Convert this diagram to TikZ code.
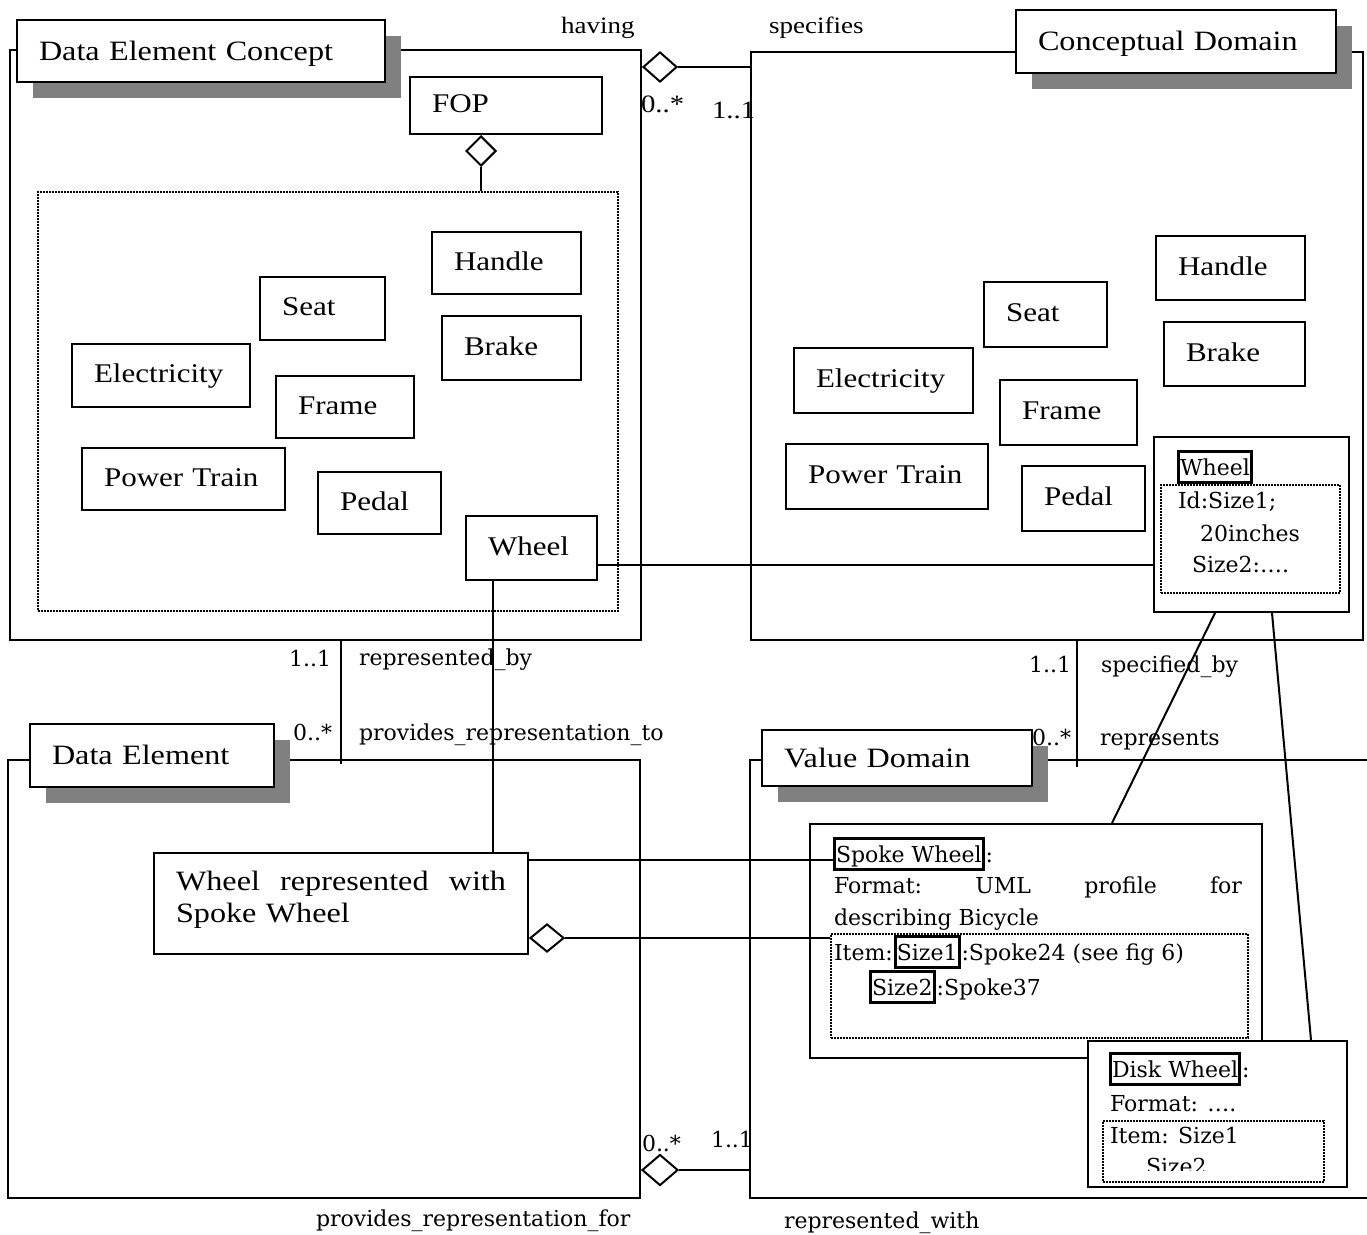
\documentclass[tikz,border=0pt]{standalone}
\usepackage{fontspec}
\setmainfont{Liberation Serif}
\newfontfamily\tmsfont[FakeStretch=1.15]{Liberation Serif}
\newfontfamily\cenfont{DejaVu Serif}
\usetikzlibrary{shapes.geometric,shadows,calc}

% node given by its two corners (x1,y1) and (x2,y2), y counted downwards
\newcommand\placebox[7]{%
  \pgfmathsetmacro\PBw{#5-#3}%
  \pgfmathsetmacro\PBh{#6-#4}%
  \pgfmathsetmacro\PBt{#5-#3-44}%
  \pgfmathsetmacro\PBx{(#3+#5)/2}%
  \pgfmathsetmacro\PBy{(#4+#6)/2}%
  \node[#1, minimum width=\PBw pt, minimum height=\PBh pt, text width=\PBt pt] (#2) at (\PBx,\PBy) {#7};}

\tikzset{
  frame/.style={draw, line width=2pt, inner xsep=22pt, inner ysep=0pt},
  hdr/.style={draw, fill=white, line width=2pt, inner xsep=22pt, inner ysep=0pt,
    align=left, text height=24pt, text depth=6pt,
    font=\tmsfont\fontsize{28}{34}\selectfont,
    drop shadow={shadow xshift=16pt, shadow yshift=-16pt, fill=black!50, opacity=1}},
  part/.style={draw, fill=white, line width=2pt, inner xsep=22pt, inner ysep=0pt,
    align=left, text height=20pt, text depth=6pt,
    font=\tmsfont\fontsize{27}{32}\selectfont},
  plain/.style={draw, fill=white, line width=2pt, inner xsep=22pt, inner ysep=0pt},
  dotbox/.style={draw, line width=2.6pt, dash pattern=on 2pt off 1pt, inner xsep=22pt, inner ysep=0pt},
  agg/.style={diamond, draw, fill=white, line width=2pt, inner sep=0pt,
    minimum width=34pt, minimum height=30pt},
  tlab/.style={inner sep=0pt, font=\tmsfont\fontsize{23.5}{28}\selectfont},
  tmult/.style={inner sep=0pt, font=\tmsfont\fontsize{25}{28}\selectfont},
  clab/.style={inner sep=0pt, font=\cenfont\fontsize{22}{32}\selectfont},
  hl/.style={draw, line width=3pt, inner xsep=1.5pt, inner ysep=2pt,
    text height=22pt, text depth=5pt, font=\cenfont\fontsize{22}{32}\selectfont},
  link/.style={line width=2pt}
}

\begin{document}
\begin{tikzpicture}[x=1pt, y=-1pt, line width=2pt]
\path[use as bounding box] (0,0) rectangle (1367,1234);
\clip (0,0) rectangle (1367,1234);

% package frames
\placebox{frame}{decF}{10}{50}{641}{640}{}
\placebox{frame}{cdF}{751}{52}{1363}{640}{}
\placebox{frame}{deF}{8}{760}{640}{1198}{}
\placebox{frame}{vdF}{750}{760}{1380}{1198}{}

% package headers
\placebox{hdr}{decH}{17}{20}{385}{82}{Data Element Concept}
\placebox{hdr}{cdH}{1016}{10}{1336}{73}{Conceptual Domain}
\placebox{hdr}{deH}{30}{724}{274}{787}{Data Element}
\placebox{hdr}{vdH}{762}{730}{1032}{786}{Value Domain}

% Data Element Concept contents
\placebox{part}{fop}{410}{77}{602}{134}{FOP}
\placebox{dotbox}{partsL}{38}{192}{618}{611}{}
\placebox{part}{hndL}{432}{232}{581}{294}{Handle}
\placebox{part}{seatL}{260}{277}{385}{340}{Seat}
\placebox{part}{brkL}{442}{316}{581}{380}{Brake}
\placebox{part}{elecL}{72}{344}{250}{407}{Electricity}
\placebox{part}{frmL}{276}{376}{414}{438}{Frame}
\placebox{part}{ptL}{82}{448}{285}{510}{Power Train}
\placebox{part}{pedL}{318}{472}{441}{534}{Pedal}
\placebox{part}{whlL}{466}{516}{597}{580}{Wheel}

% Conceptual Domain contents
\placebox{part}{hndR}{1156}{236}{1305}{300}{Handle}
\placebox{part}{seatR}{984}{282}{1107}{347}{Seat}
\placebox{part}{brkR}{1164}{322}{1305}{386}{Brake}
\placebox{part}{elecR}{794}{348}{973}{413}{Electricity}
\placebox{part}{frmR}{1000}{380}{1137}{445}{Frame}
\placebox{part}{ptR}{786}{444}{988}{509}{Power Train}
\placebox{part}{pedR}{1022}{466}{1145}{531}{Pedal}
\placebox{plain}{whlR}{1154}{437}{1349}{612}{}
\node[hl, anchor=base west] (hlWhl) at (1177,475) {Wheel};
\placebox{dotbox}{whlItems}{1161}{485}{1340}{593}{}
\node[clab, anchor=base west] (idS1) at (1177,508) {Id:Size1;};
\node[clab, anchor=base west] (inch) at (1199,541) {20inches};
\node[clab, anchor=base west] (idS2) at (1191,572) {Size2:….};

% Data Element contents
\placebox{part, text height=20pt, text depth=47pt, font=\tmsfont\fontsize{28}{32}\selectfont}{wrsw}{154}{853}{528}{954}{\makebox[330pt][l]{Wheel\hfill represented\hfill with}\\Spoke Wheel}

% Value Domain contents
\placebox{plain}{spokeB}{810}{824}{1262}{1058}{}
\node[hl, anchor=base west] (hlSpoke) at (833,862) {Spoke Wheel};
\node[clab, anchor=base west] (cSpoke) at (hlSpoke.base east) {:};
\node[clab, anchor=base west] (fmtS) at (833,893) {\makebox[408pt][l]{Format:\hfill UML\hfill profile\hfill for}};
\node[clab, anchor=base west] (descS) at (833,925) {describing Bicycle};
\placebox{dotbox}{spokeItems}{831}{934}{1248}{1038}{}
\node[clab, anchor=base west] (itemS) at (833,960) {Item:};
\node[hl, anchor=base west] (hlS1) at (itemS.base east) {Size1};
\node[clab, anchor=base west] (spk24) at (hlS1.base east) {:Spoke24 (see fig 6)};
\node[hl, anchor=base west] (hlS2) at (869,995) {Size2};
\node[clab, anchor=base west] (spk37) at (hlS2.base east) {:Spoke37};

\placebox{plain}{diskB}{1088}{1041}{1347}{1187}{}
\node[hl, anchor=base west] (hlDisk) at (1109,1077) {Disk Wheel};
\node[clab, anchor=base west] (cDisk) at (hlDisk.base east) {:};
\node[clab, anchor=base west] (fmtD) at (1109,1111) {Format: ….};
\placebox{dotbox}{diskItems}{1103}{1121}{1324}{1182}{}
\node[clab, anchor=base west] (itemD) at (1109,1143) {Item: Size1};
\begin{scope}
  \clip (1100,1150) rectangle (1330,1170);
  \node[clab, anchor=base west] (s2D) at (1145,1174) {Size2};
\end{scope}

% aggregation FOP -> parts
\node[agg, minimum width=30pt, minimum height=30pt, anchor=north] (dFop) at ($(fop.south west)+(72,0)$) {};
\draw[link] (dFop.south) -- (dFop.south |- partsL.north);

% having / specifies
\node[agg, anchor=west] (dHav) at (decF.east |- 0,67) {};
\draw[link] (dHav.east) -- (dHav.east -| cdF.west);
\node[tlab, anchor=base west] (lHav) at (560,33) {having};
\node[tlab, anchor=base west] (lSpec) at (768,33) {specifies};
\node[tmult, anchor=base west] (mHav) at (640,112) {0..*};
\node[tmult, anchor=base west] (mSpec) at (711,118) {1..1};

% Wheel to Wheel
\coordinate (wl) at ($(whlL.south east)+(0,-16)$);
\draw[link] (wl) -- (wl -| whlR.west);
\coordinate (wd) at ($(whlL.south west)+(28,0)$);
\draw[link] (wd) -- (wd |- wrsw.north);

% represented_by / provides_representation_to
\coordinate (rb) at ($(decF.south west)+(332,0)$);
\draw[link] (rb) -- ($(rb |- deF.north)+(0,5)$);
\node[clab, anchor=base east] (m1L) at (332,666) {1..1};
\node[clab, anchor=base west] (rby) at (358,665) {represented\_by};
\node[clab, anchor=base east] (m2L) at (333,740) {0..*};
\node[clab, anchor=base west] (prt) at (358,740) {provides\_representation\_to};

% specified_by / represents
\coordinate (sb) at ($(cdF.south west)+(327,0)$);
\draw[link] (sb) -- ($(sb |- vdF.north)+(0,8)$);
\node[clab, anchor=base east] (m1R) at (1072,672) {1..1};
\node[clab, anchor=base west] (sby) at (1100,672) {specified\_by};
\node[clab, anchor=base east] (m2R) at (1072,745) {0..*};
\node[clab, anchor=base west] (rps) at (1099,745) {represents};

% Wheel (conceptual domain) to its representations
\draw[link] ($(whlR.south west)+(62,0)$) -- ($(spokeB.north west)+(303,0)$);
\draw[link] ($(whlR.south west)+(119,0)$) -- ($(diskB.north west)+(224,0)$);

% Wheel represented with Spoke Wheel
\coordinate (ws) at ($(wrsw.north east)+(0,8)$);
\draw[link] (ws) -- (ws -| hlSpoke.west);
\node[agg, minimum width=34pt, minimum height=28pt, anchor=west] (dWr) at (wrsw.east |- 0,938) {};
\draw[link] (dWr.east) -- (dWr.east -| spokeItems.west);

% provides_representation_for / represented_with
\node[agg, minimum width=36pt, minimum height=31pt, anchor=west] (dPrf) at (deF.east |- 0,1170) {};
\draw[link] (dPrf.east) -- (dPrf.east -| vdF.west);
\node[clab, anchor=base west] (m3) at (641,1151) {0..*};
\node[clab, anchor=base west] (m4) at (710,1147) {1..1};
\node[clab, anchor=base west] (prf) at (315,1226) {provides\_representation\_for};
\node[clab, anchor=base west] (rpw) at (783,1228) {represented\_with};
\end{tikzpicture}
\end{document}
